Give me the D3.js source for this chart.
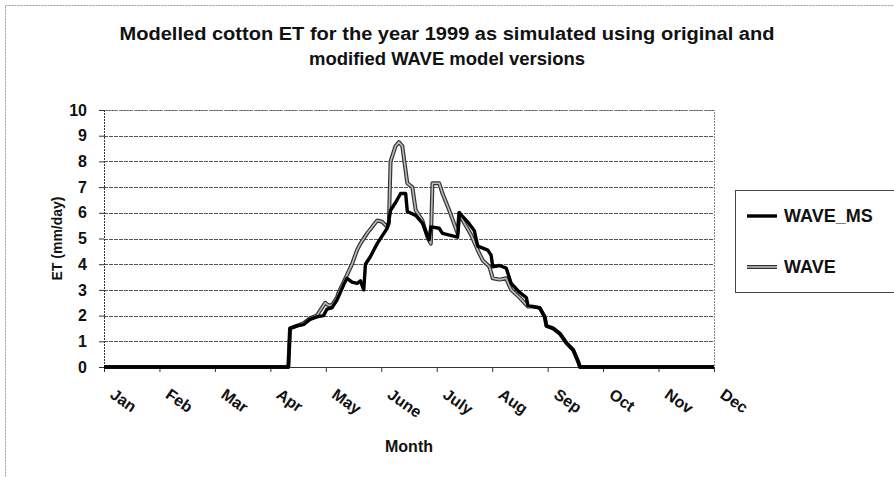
<!DOCTYPE html>
<html>
<head>
<meta charset="utf-8">
<script src="https://cdn.jsdelivr.net/npm/d3@7"></script>
<style>
  body { margin: 0; background: #fff; }
  text { font-family: "Liberation Sans", Arial, sans-serif; font-weight: bold; fill: #111; }
</style>
</head>
<body>
<div id="chart"></div>
<script>
/* Modelled cotton ET 1999 - WAVE vs WAVE_MS */

// month labels along the x axis
const months = ["Jan", "Feb", "Mar", "Apr", "May", "June", "July", "Aug", "Sep", "Oct", "Nov", "Dec"];
const yTicks = [0, 1, 2, 3, 4, 5, 6, 7, 8, 9, 10];

// [day of year, ET mm/day]
const waveMS = [
  [1, 0], [111, 0], [112, 1.5], [116, 1.6], [120, 1.65], [124, 1.85], [128, 1.95], [132, 2.0],
  [134, 2.25], [137, 2.3], [140, 2.6], [142, 2.9], [144, 3.2], [146, 3.45], [149, 3.3], [152, 3.25],
  [154, 3.35], [156, 3.0], [157, 4.0], [160, 4.3], [164, 4.8], [167, 5.1], [170, 5.4], [171, 5.7],
  [172, 6.1], [175, 6.4], [178, 6.75], [181, 6.75], [182, 6.05], [187, 5.9], [191, 5.6], [194, 5.1],
  [195, 4.95], [196, 5.45], [201, 5.4], [203, 5.2], [212, 5.05], [213, 6.0], [218, 5.65], [222, 5.3],
  [224, 4.7], [230, 4.55], [232, 4.35], [233, 3.9], [237, 3.95], [241, 3.85], [244, 3.25], [249, 2.9],
  [253, 2.7], [254, 2.4], [257, 2.35], [261, 2.3], [264, 1.95], [265, 1.6], [269, 1.5], [273, 1.3],
  [277, 0.93], [281, 0.66], [284, 0.2], [285, 0], [365, 0]
];

const wave = [
  [1, 0], [111, 0], [112, 1.5], [116, 1.6], [120, 1.7], [124, 1.9], [128, 2.0], [131, 2.3],
  [133, 2.5], [135, 2.4], [137, 2.4], [140, 2.7], [141, 2.9], [144, 3.3], [149, 4.0], [152, 4.55],
  [154, 4.8], [158, 5.2], [164, 5.7], [167, 5.65], [170, 5.45], [171, 5.6], [172, 8.0], [175, 8.6],
  [177, 8.75], [179, 8.6], [182, 7.15], [185, 7.0], [187, 6.1], [191, 5.7], [194, 5.05], [196, 4.8],
  [197, 7.15], [201, 7.15], [203, 6.75], [207, 6.1], [212, 5.2], [213, 6.0], [216, 5.6], [220, 5.15],
  [224, 4.55], [227, 4.15], [231, 3.9], [233, 3.45], [237, 3.4], [241, 3.45], [244, 3.0], [249, 2.7],
  [254, 2.35], [257, 2.35], [261, 2.3], [264, 1.95], [265, 1.6], [269, 1.5], [273, 1.3], [277, 0.93],
  [281, 0.66], [284, 0.2], [285, 0], [365, 0]
];

const W = 894, H = 477;
const margin = {top: 110, right: 180, bottom: 110, left: 104},
  width = W - margin.left - margin.right,
  height = H - margin.top - margin.bottom;

const svg = d3.select("#chart").append("svg")
  .attr("width", W)
  .attr("height", H);

// outer chart frame (dotted, like the scan)
svg.append("rect")
  .attr("x", 5.5).attr("y", 5.5)
  .attr("width", W).attr("height", H)
  .attr("fill", "none")
  .attr("stroke", "#999")
  .attr("stroke-dasharray", "2,1");

const g = svg.append("g")
  .attr("transform", "translate(" + margin.left + "," + margin.top + ")");

const x = d3.scaleLinear().domain([1, 365]).range([0, width]);
const y = d3.scaleLinear().domain([0, 10]).range([height, 0]);

// month ticks are evenly spaced across the axis
const monthPos = d3.scalePoint().domain(months).range([0, width]);

// gridlines
g.append("g")
  .selectAll("line")
  .data(yTicks.filter(d => d > 0))
  .join("line")
  .attr("x1", 0).attr("x2", width)
  .attr("y1", d => Math.round(y(d)) + 0.5)
  .attr("y2", d => Math.round(y(d)) + 0.5)
  .attr("stroke", "#555")
  .attr("stroke-dasharray", "4,1");

// plot area border (top/right)
g.append("path")
  .attr("d", "M0,0.5H" + (width + 0.5) + "V" + height)
  .attr("fill", "none")
  .attr("stroke", "#888")
  .attr("stroke-dasharray", "2,1");

// y axis
const yAx = g.append("g")
  .call(d3.axisLeft(y).tickValues(yTicks).tickSize(5).tickPadding(12));
yAx.select(".domain").attr("stroke", "#333").attr("stroke-dasharray", "2,1");
yAx.selectAll(".tick line").attr("stroke", "#333");
yAx.selectAll("text").style("font-size", "16px").style("font-family", "Liberation Sans, Arial")
  .style("font-weight", "bold").attr("fill", "#111");

// x axis
const xAx = g.append("g")
  .attr("transform", "translate(0," + height + ")")
  .call(d3.axisBottom(monthPos).tickSize(5).tickFormat(""));
xAx.select(".domain").attr("stroke", "#333");
xAx.selectAll(".tick line").attr("stroke", "#333");

g.append("g")
  .selectAll("text")
  .data(months)
  .join("text")
  .attr("transform", d => "translate(" + (monthPos(d) + 5) + "," + (height + 30) + ") rotate(35)")
  .attr("text-anchor", "start")
  .style("font-size", "16px")
  .text(d => d);

// lines
const line = d3.line()
  .x(d => x(d[0]))
  .y(d => y(d[1]));

// WAVE: grey line with dark edge, as on the scan
g.append("path")
  .attr("d", line(wave))
  .attr("fill", "none")
  .attr("stroke", "#333")
  .attr("stroke-width", 4)
  .attr("stroke-linejoin", "round");
g.append("path")
  .attr("d", line(wave))
  .attr("fill", "none")
  .attr("stroke", "#bbb")
  .attr("stroke-width", 1.6)
  .attr("stroke-linejoin", "round");

g.append("path")
  .attr("d", line(waveMS))
  .attr("fill", "none")
  .attr("stroke", "#000")
  .attr("stroke-width", 3.4)
  .attr("stroke-linejoin", "round");

// titles
svg.append("text")
  .attr("x", 447).attr("y", 40)
  .attr("text-anchor", "middle")
  .attr("textLength", 655)
  .attr("lengthAdjust", "spacingAndGlyphs")
  .style("font-size", "18px")
  .text("Modelled cotton ET for the year 1999 as simulated using original and");
svg.append("text")
  .attr("x", 447).attr("y", 65)
  .attr("text-anchor", "middle")
  .attr("textLength", 276)
  .attr("lengthAdjust", "spacingAndGlyphs")
  .style("font-size", "18px")
  .text("modified WAVE model versions");

svg.append("text")
  .attr("x", margin.left + width / 2).attr("y", 452)
  .attr("text-anchor", "middle")
  .style("font-size", "16px")
  .text("Month");

svg.append("text")
  .attr("transform", "translate(62," + (margin.top + height / 2) + ") rotate(-90)")
  .attr("text-anchor", "middle")
  .style("font-size", "14px")
  .text("ET (mm/day)");

// legend
const leg = svg.append("g").attr("transform", "translate(735,190)");
leg.append("rect")
  .attr("x", 0.5).attr("y", 0.5)
  .attr("width", 170).attr("height", 102)
  .attr("fill", "#fff")
  .attr("stroke", "#444");

const legItems = [
  {name: "WAVE_MS", y: 26},
  {name: "WAVE", y: 77}
];
legItems.forEach(function(it, i) {
  if (i === 0) {
    leg.append("line").attr("x1", 12).attr("x2", 42).attr("y1", it.y).attr("y2", it.y)
      .attr("stroke", "#000").attr("stroke-width", 3.4);
  } else {
    leg.append("line").attr("x1", 12).attr("x2", 42).attr("y1", it.y).attr("y2", it.y)
      .attr("stroke", "#333").attr("stroke-width", 4);
    leg.append("line").attr("x1", 12).attr("x2", 42).attr("y1", it.y).attr("y2", it.y)
      .attr("stroke", "#bbb").attr("stroke-width", 1.6);
  }
  leg.append("text")
    .attr("x", 49).attr("y", it.y + 6)
    .style("font-size", "18px")
    .text(it.name);
});
</script>
</body>
</html>
